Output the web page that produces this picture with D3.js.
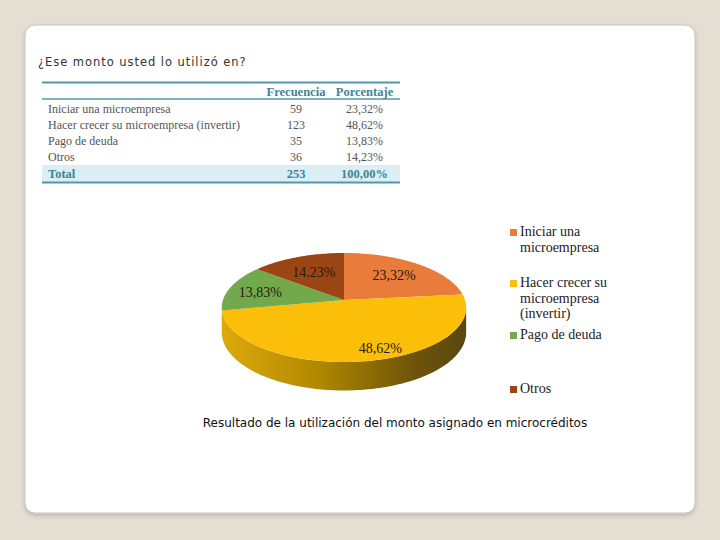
<!DOCTYPE html>
<html><head><meta charset="utf-8">
<script src="https://cdn.jsdelivr.net/npm/d3@7"></script>
<style>
html,body{margin:0;padding:0;background:#e4ded3;}
svg{display:block;}
</style></head>
<body>
<svg id="c" width="720" height="540"></svg>
<script>
const title = "¿Ese monto usted lo utilizó en?";
const categories = ["Iniciar una microempresa","Hacer crecer su microempresa (invertir)","Pago de deuda","Otros"];
const frecuencia = [59,123,35,36];
const porcentaje = ["23,32%","48,62%","13,83%","14,23%"];
const pieLabels = ["23,32%","48,62%","13,83%","14.23%"];
const totalRow = ["Total","253","100,00%"];
const headers = ["Frecuencia","Porcentaje"];
const legendLines = [["Iniciar una","microempresa"],["Hacer crecer su","microempresa","(invertir)"],["Pago de deuda"],["Otros"]];
const colors = ["#e97c3b","#fbbf0a","#72a94c","#9c4514"];
const caption = "Resultado de la utilización del monto asignado en microcréditos";

const svg = d3.select("#c");
const defs = svg.append("defs");
const sh = defs.append("filter").attr("id","sh").attr("x","-5%").attr("y","-5%").attr("width","110%").attr("height","112%");
sh.append("feDropShadow").attr("dx",0).attr("dy",2).attr("stdDeviation",2).attr("flood-color","#000").attr("flood-opacity",0.18);

// card
svg.append("rect").attr("x",25).attr("y",25).attr("width",670).attr("height",488).attr("rx",10)
  .attr("fill","#fff").attr("stroke","#c9c6c0").attr("stroke-width",1).attr("filter","url(#sh)");

// title
svg.append("text").attr("x",38).attr("y",66).text(title)
  .attr("font-family","DejaVu Sans").attr("font-size",11.5).attr("letter-spacing",0.95).attr("fill","#333");

// table
const teal = "#4f9aaa";
const tx0 = 42, tx1 = 400;
const rowY = d3.scaleLinear().domain([0,1]).range([112.5,128.8]);
const colX = [48, 296, 364.5];
svg.append("rect").attr("x",tx0).attr("y",165).attr("width",tx1-tx0).attr("height",17).attr("fill","#dbeef3");
svg.append("line").attr("x1",tx0).attr("x2",tx1).attr("y1",82.5).attr("y2",82.5).attr("stroke",teal).attr("stroke-width",2);
svg.append("line").attr("x1",tx0).attr("x2",tx1).attr("y1",99).attr("y2",99).attr("stroke",teal).attr("stroke-width",1.5);
svg.append("line").attr("x1",tx0).attr("x2",tx1).attr("y1",182.5).attr("y2",182.5).attr("stroke",teal).attr("stroke-width",2);
const serif = "Liberation Serif";
headers.forEach((h,i)=>{
  svg.append("text").attr("x",colX[i+1]).attr("y",96).attr("text-anchor","middle").text(h)
    .attr("font-family",serif).attr("font-size",12.5).attr("font-weight","bold").attr("fill","#3f8493");
});
categories.forEach((c,i)=>{
  const y = rowY(i);
  const g = svg.append("g").attr("font-family",serif).attr("font-size",12).attr("fill","#555");
  g.append("text").attr("x",colX[0]).attr("y",y).text(c);
  g.append("text").attr("x",colX[1]).attr("y",y).attr("text-anchor","middle").text(frecuencia[i]);
  g.append("text").attr("x",colX[2]).attr("y",y).attr("text-anchor","middle").text(porcentaje[i]);
});
{
  const y = rowY(4);
  const g = svg.append("g").attr("font-family",serif).attr("font-size",12.5).attr("font-weight","bold").attr("fill","#3f8493");
  g.append("text").attr("x",colX[0]).attr("y",y).text(totalRow[0]);
  g.append("text").attr("x",colX[1]).attr("y",y).attr("text-anchor","middle").text(d3.sum(frecuencia));
  g.append("text").attr("x",colX[2]).attr("y",y).attr("text-anchor","middle").text(totalRow[2]);
}

// 3D pie with perspective projection
const cx = 344, cy = 300, w = 121, s = 53.5, k = 0.1376, h0 = 24.5;
const proj = (a, r=1, drop=false) => {
  const den = 1 + k*r*Math.cos(a);
  return [cx + w*r*Math.sin(a)/den, cy - s*r*Math.cos(a)/den + (drop ? h0/den : 0)];
};
const arcs = d3.pie().sort(null)(frecuencia);
const sample = (a0, a1, drop) => {
  const n = Math.max(2, Math.ceil((a1-a0)/0.02));
  return d3.range(n+1).map(j => proj(a0 + (a1-a0)*j/n, 1, drop));
};
const line = d3.line();

const gradY = defs.append("linearGradient").attr("id","sideY").attr("gradientUnits","userSpaceOnUse")
  .attr("x1",cx-w).attr("x2",cx+w).attr("y1",0).attr("y2",0);
[[0,"#dcaa0c"],[0.4,"#b08700"],[0.78,"#6f5508"],[1,"#5a4711"]].forEach(st=>gradY.append("stop").attr("offset",st[0]).attr("stop-color",st[1]));
const sideFill = ["#b05c28","url(#sideY)","#4f7a33","#6b2f0c"];

const pg = svg.append("g");
const vis0 = Math.acos(-k), vis1 = 2*Math.PI - Math.acos(-k);
arcs.forEach((d,i)=>{
  const a0 = Math.max(d.startAngle, vis0), a1 = Math.min(d.endAngle, vis1);
  if (a1 <= a0) return;
  const pts = sample(a0, a1, false).concat(sample(a0, a1, true).reverse());
  pg.append("path").attr("d", line(pts) + "Z").attr("fill", sideFill[i]);
});
arcs.forEach((d,i)=>{
  const pts = [[cx,cy]].concat(sample(d.startAngle, d.endAngle, false));
  pg.append("path").attr("d", line(pts) + "Z").attr("fill", colors[i]);
});
// labels: [radius fraction, angle nudge in degrees]
const labelPlace = [[0.66,0],[0.84,-10],[0.72,-2],[0.62,0]];
arcs.forEach((d,i)=>{
  const m = (d.startAngle + d.endAngle)/2 + labelPlace[i][1]*Math.PI/180;
  const p = proj(m, labelPlace[i][0]);
  pg.append("text").attr("x",p[0]).attr("y",p[1]+5).attr("text-anchor","middle").text(pieLabels[i])
    .attr("font-family",serif).attr("font-size",14).attr("fill","#2a1a0a");
});

// legend
const legY = [236, 287, 339, 393];
legendLines.forEach((lines,i)=>{
  const g = svg.append("g");
  g.append("rect").attr("x",510).attr("y",legY[i]-7).attr("width",7).attr("height",7).attr("fill",colors[i]);
  lines.forEach((t,j)=>{
    g.append("text").attr("x",520).attr("y",legY[i]+j*15.5).text(t)
      .attr("font-family",serif).attr("font-size",14).attr("fill","#222");
  });
});

// caption
svg.append("text").attr("x",395).attr("y",427).attr("text-anchor","middle").text(caption)
  .attr("font-family","DejaVu Sans").attr("font-size",12).attr("fill","#111");
</script>
</body></html>
